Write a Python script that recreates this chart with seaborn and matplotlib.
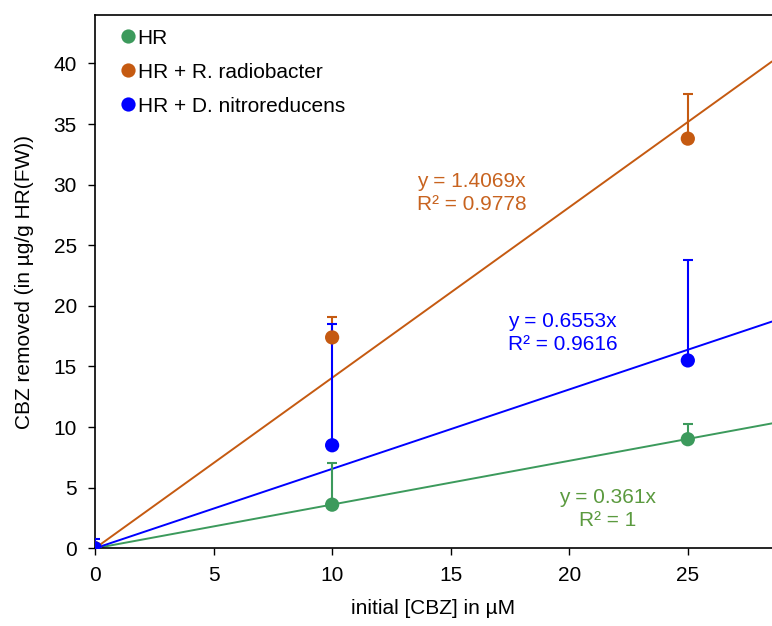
import numpy as np
import pandas as pd
import matplotlib
matplotlib.use("Agg")
import matplotlib.pyplot as plt
import seaborn as sns

# data
conc = [0, 10, 25]
series_names = ["HR", "HR + R. radiobacter", "HR + D. nitroreducens"]
hr_vals = [0.0, 3.6, 9.0]
hr_err = [0.0, 3.4, 1.25]
rr_vals = [0.0, 17.4, 33.8]
rr_err = [0.0, 1.7, 3.7]
dn_vals = [0.0, 8.5, 15.5]
dn_err = [0.8, 10.0, 8.3]
slopes = [0.361, 1.4069, 0.6553]
eq_texts = ["y = 0.361x\nR² = 1", "y = 1.4069x\nR² = 0.9778", "y = 0.6553x\nR² = 0.9616"]

marker_colors = ["#3c9a5c", "#c55a11", "#0000ff"]
text_colors = ["#5b9a3f", "#c8631f", "#0000ff"]

sns.set_theme(style="white")
plt.rcParams['font.family'] = ['Liberation Sans', 'DejaVu Sans']
plt.rcParams['text.color'] = 'black'
plt.rcParams['axes.labelcolor'] = 'black'

FS = 15

fig = plt.figure(figsize=(7.72, 6.26), dpi=100)
ax = fig.add_axes([95/772, 1 - 548.3/626, 1 - 95/772, (548.3 - 15)/626])

df = pd.DataFrame({
    "conc": conc * 3,
    "val": hr_vals + rr_vals + dn_vals,
    "series": sum([[n] * 3 for n in series_names], []),
})

xmax = 28.55
xs = np.array([0, xmax])
line_df = pd.DataFrame({
    "x": np.tile(xs, 3),
    "y": np.concatenate([s * xs for s in slopes]),
    "series": sum([[n] * 2 for n in series_names], []),
})
pal = dict(zip(series_names, marker_colors))
sns.lineplot(data=line_df, x="x", y="y", hue="series", palette=pal, ax=ax,
             legend=False, linewidth=1.4, zorder=2)

for vals, errs, c in zip([hr_vals, rr_vals, dn_vals], [hr_err, rr_err, dn_err], marker_colors):
    ax.errorbar(conc, vals, yerr=[np.zeros(3), errs], fmt="none", ecolor=c,
                elinewidth=1.5, capsize=3.6, capthick=1.5, zorder=3)

sns.scatterplot(data=df, x="conc", y="val", hue="series", palette=pal, ax=ax,
                s=105, edgecolor="none", zorder=4)

ax.set_xlim(0, xmax)
ax.set_ylim(0, 44)
ax.set_xticks([0, 5, 10, 15, 20, 25])
ax.set_yticks(range(0, 45, 5))
ax.tick_params(axis="both", which="both", direction="out", length=5, width=1,
               colors="black", labelsize=FS, left=True, bottom=True)
ax.tick_params(axis="x", pad=8)
ax.tick_params(axis="y", pad=8)
for sp in ["left", "bottom", "top"]:
    ax.spines[sp].set_visible(True)
    ax.spines[sp].set_color("black")
    ax.spines[sp].set_linewidth(1.2)
ax.spines["right"].set_visible(False)

ax.set_xlabel("initial [CBZ] in µM", fontsize=FS, labelpad=10)
ax.set_ylabel("CBZ removed (in µg/g HR(FW))", fontsize=FS, labelpad=14)

# equations
ax.text(21.6, 3.25, eq_texts[0], color=text_colors[0], fontsize=FS,
        ha="center", va="center", linespacing=1.3)
ax.text(13.6, 29.3, eq_texts[1], color=text_colors[1], fontsize=FS,
        ha="left", va="center", linespacing=1.3)
ax.text(17.4, 17.75, eq_texts[2], color=text_colors[2], fontsize=FS,
        ha="left", va="center", linespacing=1.3)

handles, labels = ax.get_legend_handles_labels()
ax.legend(handles=handles, labels=labels, loc="upper left", bbox_to_anchor=(0.02, 1.002),
          frameon=False, fontsize=FS, handlelength=0.5, handletextpad=0.2,
          labelspacing=0.72, borderaxespad=0.3)

fig.savefig("out.png", dpi=100)
